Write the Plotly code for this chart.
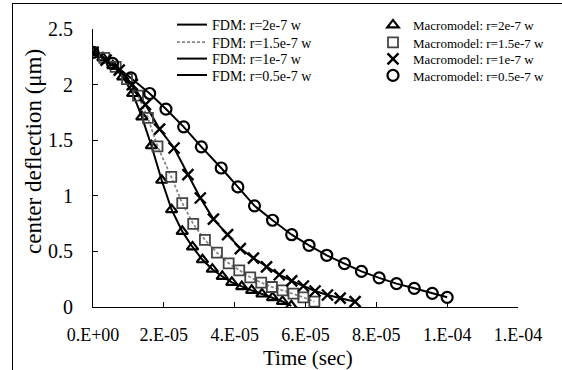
import plotly.graph_objects as go

# ---- data (time in units of 1e-5 s, deflection in um) ----
t_r20 = [0, 0.28, 0.56, 0.84, 1.12, 1.38, 1.65, 1.94, 2.22, 2.52, 2.81, 3.09, 3.37, 3.65, 3.92, 4.20, 4.48, 4.77, 5.07, 5.35, 5.60]
y_r20 = [2.29, 2.24, 2.17, 2.07, 1.92, 1.71, 1.45, 1.14, 0.875, 0.68, 0.54, 0.425, 0.34, 0.275, 0.222, 0.183, 0.15, 0.117, 0.085, 0.05, 0.01]

t_r15 = [0, 0.32, 0.64, 0.96, 1.27, 1.55, 1.82, 2.21, 2.52, 2.83, 3.16, 3.50, 3.83, 4.13, 4.44, 4.75, 5.05, 5.35, 5.66, 5.94, 6.25]
y_r15 = [2.29, 2.24, 2.16, 2.05, 1.90, 1.70, 1.445, 1.17, 0.934, 0.747, 0.603, 0.489, 0.393, 0.33, 0.267, 0.219, 0.18, 0.15, 0.12, 0.087, 0.048]

t_r10 = [0, 0.37, 0.74, 1.11, 1.48, 1.88, 2.29, 2.68, 3.03, 3.40, 3.80, 4.16, 4.53, 4.90, 5.26, 5.61, 5.94, 6.27, 6.62, 6.98, 7.40]
y_r10 = [2.29, 2.22, 2.13, 2.00, 1.82, 1.60, 1.43, 1.19, 0.98, 0.79, 0.65, 0.525, 0.44, 0.36, 0.29, 0.235, 0.189, 0.144, 0.108, 0.08, 0.048]

t_r05 = [0, 0.55, 1.07, 1.60, 2.06, 2.56, 3.06, 3.62, 4.09, 4.56, 5.07, 5.61, 6.10, 6.60, 7.10, 7.58, 8.08, 8.57, 9.07, 9.58, 10.0]
y_r05 = [2.29, 2.19, 2.06, 1.92, 1.78, 1.62, 1.44, 1.25, 1.08, 0.91, 0.78, 0.65, 0.555, 0.465, 0.39, 0.32, 0.262, 0.21, 0.168, 0.123, 0.087]

x_tickvals = [0, 2e-5, 4e-5, 6e-5, 8e-5, 1e-4, 1.2e-4]
x_ticktext = ["0.E+00", "2.E-05", "4.E-05", "6.E-05", "8.E-05", "1.E-04", "1.E-04"]
y_tickvals = [0, 0.5, 1, 1.5, 2, 2.5]
y_ticktext = ["0", "0.5", "1", "1.5", "2", "2.5"]

fdm_names = ["FDM: r=2e-7 w", "FDM: r=1.5e-7 w", "FDM: r=1e-7 w", "FDM: r=0.5e-7 w"]
mac_names = ["Macromodel: r=2e-7 w", "Macromodel: r=1.5e-7 w", "Macromodel: r=1e-7 w", "Macromodel: r=0.5e-7 w"]
x_title = "Time (sec)"
y_title = "center deflection (\u03bcm)"

series_t = [t_r20, t_r15, t_r10, t_r05]
series_y = [y_r20, y_r15, y_r10, y_r05]

def sec(ts):
    return [v * 1e-5 for v in ts]

FONT = "Liberation Serif"

# plot-area geometry (pixels)
W, H = 562, 370
ML, MR, MT, MB = 93, 44, 29, 63
PW = W - ML - MR
PH = H - MT - MB

def px_to_paper_x(px):
    return (px - ML) / PW

def px_to_paper_y(py):
    return (H - MB - py) / PH

row_y = [25, 42.5, 59, 75.5]

fig = go.Figure()

line_styles = [
    dict(color="black", width=2, dash="solid"),
    dict(color="#888888", width=1.8, dash="3px,2px"),
    dict(color="black", width=2, dash="solid"),
    dict(color="black", width=2, dash="solid"),
]
marker_styles = [
    dict(symbol="triangle-up-open", size=10, color="black", line=dict(width=2.2, color="black")),
    dict(symbol="square-open", size=10, color="#444444", line=dict(width=1.8, color="#444444")),
    dict(symbol="x-thin-open", size=11, color="black", line=dict(width=2.4, color="black")),
    dict(symbol="circle-open", size=11, color="black", line=dict(width=2.2, color="black")),
]

legends = {}
for i in range(4):
    lname = "legend" if i == 0 else "legend%d" % (i + 1)
    fig.add_trace(go.Scatter(
        x=sec(series_t[i]), y=series_y[i], mode="lines", name=fdm_names[i],
        line=line_styles[i], legend=lname))
    legends[lname] = dict(x=px_to_paper_x(172), y=px_to_paper_y(row_y[i]),
                          xanchor="left", yanchor="middle",
                          font=dict(size=14, family=FONT), bgcolor="rgba(0,0,0,0)",
                          itemwidth=30)
for i in range(4):
    lname = "legend%d" % (i + 5)
    fig.add_trace(go.Scatter(
        x=sec(series_t[i]), y=series_y[i], mode="markers", name=mac_names[i],
        marker=marker_styles[i], legend=lname))
    legends[lname] = dict(x=px_to_paper_x(373), y=px_to_paper_y(row_y[i]),
                          xanchor="left", yanchor="middle",
                          font=dict(size=13, family=FONT), bgcolor="rgba(0,0,0,0)",
                          itemwidth=30)

fig.update_layout(
    width=W, height=H,
    margin=dict(l=ML, r=MR, t=MT, b=MB, autoexpand=False),
    paper_bgcolor="white", plot_bgcolor="white",
    font=dict(family=FONT, color="black"),
    showlegend=True,
    annotations=[
        # outer frame of the picture (left and top edges visible)
        dict(text=" ", xref="paper", yref="paper",
             x=px_to_paper_x(11.5), y=px_to_paper_y(2.5),
             xanchor="left", yanchor="top", showarrow=False,
             width=600, height=420, borderwidth=1, bordercolor="black", borderpad=0),
        dict(text=x_title, xref="paper", yref="paper",
             x=px_to_paper_x(308), y=px_to_paper_y(358),
             xanchor="center", yanchor="middle", showarrow=False,
             font=dict(size=21, family=FONT)),
        dict(text=y_title, xref="paper", yref="paper", textangle=-90,
             x=px_to_paper_x(33), y=px_to_paper_y(152),
             xanchor="center", yanchor="middle", showarrow=False,
             font=dict(size=23, family=FONT)),
    ],
    **legends,
)

fig.update_xaxes(
    range=[0, 1.2e-4], tickvals=x_tickvals, ticktext=x_ticktext,
    showline=True, linecolor="black", linewidth=1, mirror=False,
    ticks="inside", ticklen=5, tickcolor="black", showgrid=False, zeroline=False,
    tickfont=dict(size=18, family=FONT), ticklabelstandoff=11,
)
fig.update_yaxes(
    range=[0, 2.5], tickvals=y_tickvals, ticktext=y_ticktext,
    showline=True, linecolor="black", linewidth=1, mirror=False,
    ticks="inside", ticklen=5, tickcolor="black", showgrid=False, zeroline=False,
    tickfont=dict(size=20, family=FONT), ticklabelstandoff=15,
)

fig.write_html("out.html", config={"displayModeBar": False},
               post_script="document.body.style.margin='0px';")
